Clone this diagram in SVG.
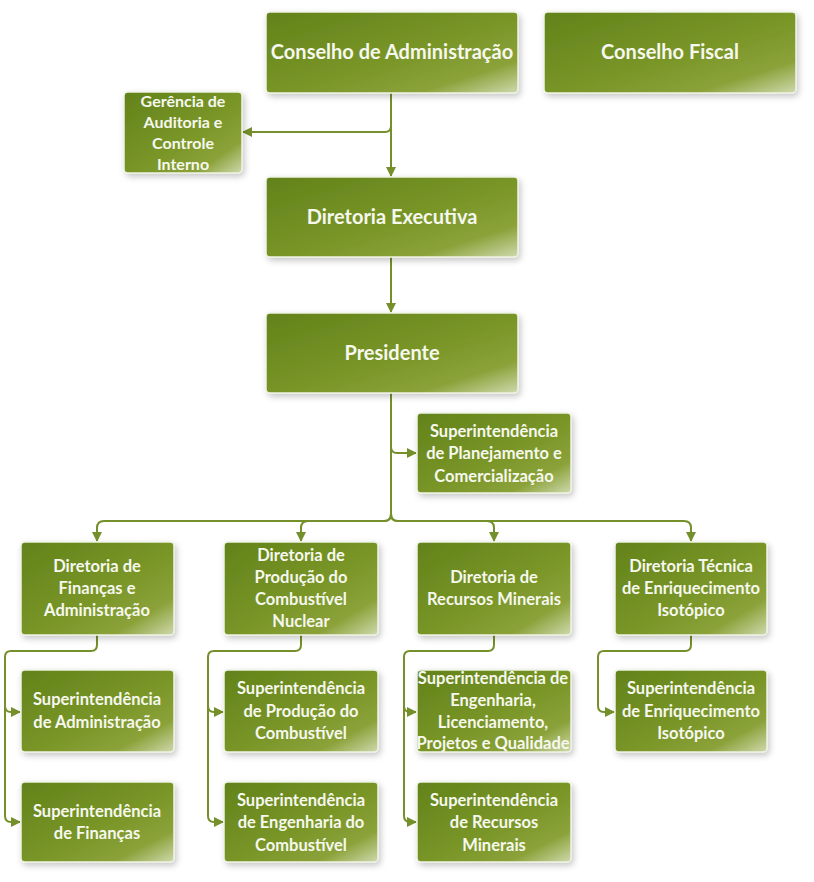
<svg xmlns="http://www.w3.org/2000/svg" width="814" height="882" viewBox="0 0 814 882">
<defs>
<linearGradient id="g" x1="0" y1="0" x2="1" y2="1">
<stop offset="0" stop-color="#62821a"/>
<stop offset="0.55" stop-color="#7a9628"/>
<stop offset="0.8" stop-color="#8ba23a"/>
<stop offset="1" stop-color="#cfd9ad"/>
</linearGradient>
<filter id="sh" x="-10%" y="-10%" width="125%" height="130%">
<feDropShadow dx="2" dy="3" stdDeviation="3" flood-color="#000" flood-opacity="0.22"/>
</filter>
<marker id="ar" viewBox="0 0 10 10" refX="9" refY="5" markerWidth="5" markerHeight="5" orient="auto" markerUnits="strokeWidth">
<path d="M0,0 L10,5 L0,10 z" fill="#75902a"/>
</marker>
</defs>
<style>
.b{fill:url(#g);stroke:#eef2e2;stroke-width:1.5;filter:url(#sh)}
.t{font-family:Lato,"Open Sans","Liberation Sans",sans-serif;font-weight:bold;fill:#f6f8ee;text-anchor:middle;font-size:16.5px}
.L{font-size:20px}
.m{font-size:16px}
.c{fill:none;stroke:#75902a;stroke-width:2}
.a{marker-end:url(#ar)}
</style>
<rect width="814" height="882" fill="#fff"/>
<g id="connectors">
<path class="c a" d="M391,93 V176"/>
<path class="c a" d="M391,126 Q391,132 385,132 H243"/>
<path class="c a" d="M391,257 V312"/>
<path class="c" d="M391,393 V514"/>
<path class="c a" d="M391,447 Q391,453 397,453 H416"/>
<path class="c a" d="M391,514 Q391,521 384,521 H104 Q97,521 97,528 V541"/>
<path class="c a" d="M391,514 Q391,521 384,521 H308 Q301,521 301,528 V541"/>
<path class="c a" d="M391,514 Q391,521 398,521 H487 Q494,521 494,528 V541"/>
<path class="c a" d="M391,514 Q391,521 398,521 H684 Q691,521 691,528 V541"/>
<path class="c a" d="M97,635 V645 Q97,651 91,651 H11 Q5,651 5,657 V816 Q5,822 11,822 H20"/>
<path class="c a" d="M5,706 Q5,712 11,712 H20"/>
<path class="c a" d="M301,635 V645 Q301,651 295,651 H214 Q208,651 208,657 V816 Q208,822 214,822 H223"/>
<path class="c a" d="M208,706 Q208,712 214,712 H223"/>
<path class="c a" d="M494,635 V645 Q494,651 488,651 H410 Q404,651 404,657 V816 Q404,822 410,822 H416"/>
<path class="c a" d="M404,706 Q404,712 410,712 H416"/>
<path class="c a" d="M691,635 V645 Q691,651 685,651 H604 Q598,651 598,657 V706 Q598,712 604,712 H614"/>
</g>
<g id="conselho-admin"><rect class="b" x="266" y="12" width="252" height="81" rx="4"/><text class="t L" x="392" y="59">Conselho de Administração</text></g>
<g id="conselho-fiscal"><rect class="b" x="544" y="12" width="252" height="81" rx="4"/><text class="t L" x="670" y="59">Conselho Fiscal</text></g>
<g id="gerencia"><rect class="b" x="124" y="92" width="118" height="81" rx="4"/><text class="t m" x="183"><tspan x="183" y="107">Gerência de</tspan><tspan x="183" y="128">Auditoria e</tspan><tspan x="183" y="149">Controle</tspan><tspan x="183" y="170">Interno</tspan></text></g>
<g id="diretoria-executiva"><rect class="b" x="266" y="177" width="252" height="80" rx="4"/><text class="t L" x="392" y="224">Diretoria Executiva</text></g>
<g id="presidente"><rect class="b" x="266" y="313" width="252" height="80" rx="4"/><text class="t L" x="392" y="360">Presidente</text></g>
<g id="sup-planejamento"><rect class="b" x="417" y="413" width="154" height="80" rx="4"/><text class="t"><tspan x="494" y="437">Superintendência</tspan><tspan x="494" y="459">de Planejamento e</tspan><tspan x="494" y="482">Comercialização</tspan></text></g>
<g id="dir-financas"><rect class="b" x="21" y="542" width="153" height="93" rx="4"/><text class="t"><tspan x="97" y="572">Diretoria de</tspan><tspan x="97" y="594">Finanças e</tspan><tspan x="97" y="616">Administração</tspan></text></g>
<g id="dir-producao"><rect class="b" x="224" y="542" width="154" height="93" rx="4"/><text class="t"><tspan x="301" y="561">Diretoria de</tspan><tspan x="301" y="583">Produção do</tspan><tspan x="301" y="605">Combustível</tspan><tspan x="301" y="627">Nuclear</tspan></text></g>
<g id="dir-recursos"><rect class="b" x="417" y="542" width="154" height="93" rx="4"/><text class="t"><tspan x="494" y="583">Diretoria de</tspan><tspan x="494" y="605">Recursos Minerais</tspan></text></g>
<g id="dir-tecnica"><rect class="b" x="615" y="542" width="152" height="93" rx="4"/><text class="t"><tspan x="691" y="572">Diretoria Técnica</tspan><tspan x="691" y="594">de Enriquecimento</tspan><tspan x="691" y="616">Isotópico</tspan></text></g>
<g id="sup-administracao"><rect class="b" x="21" y="670" width="153" height="82" rx="4"/><text class="t"><tspan x="97" y="705">Superintendência</tspan><tspan x="97" y="728">de Administração</tspan></text></g>
<g id="sup-producao"><rect class="b" x="224" y="670" width="154" height="82" rx="4"/><text class="t"><tspan x="301" y="694">Superintendência</tspan><tspan x="301" y="717">de Produção do</tspan><tspan x="301" y="739">Combustível</tspan></text></g>
<g id="sup-engenharia"><rect class="b" x="417" y="670" width="154" height="82" rx="4"/><text class="t"><tspan x="493" y="684">Superintendência de</tspan><tspan x="493" y="706">Engenharia,</tspan><tspan x="493" y="728">Licenciamento,</tspan><tspan x="493" y="749">Projetos e Qualidade</tspan></text></g>
<g id="sup-enriquecimento"><rect class="b" x="615" y="670" width="152" height="82" rx="4"/><text class="t"><tspan x="691" y="694">Superintendência</tspan><tspan x="691" y="717">de Enriquecimento</tspan><tspan x="691" y="739">Isotópico</tspan></text></g>
<g id="sup-financas"><rect class="b" x="21" y="782" width="153" height="80" rx="4"/><text class="t"><tspan x="97" y="817">Superintendência</tspan><tspan x="97" y="839">de Finanças</tspan></text></g>
<g id="sup-eng-combustivel"><rect class="b" x="224" y="782" width="154" height="80" rx="4"/><text class="t"><tspan x="301" y="806">Superintendência</tspan><tspan x="301" y="828">de Engenharia do</tspan><tspan x="301" y="851">Combustível</tspan></text></g>
<g id="sup-recursos"><rect class="b" x="417" y="782" width="154" height="80" rx="4"/><text class="t"><tspan x="494" y="806">Superintendência</tspan><tspan x="494" y="828">de Recursos</tspan><tspan x="494" y="851">Minerais</tspan></text></g>
</svg>
